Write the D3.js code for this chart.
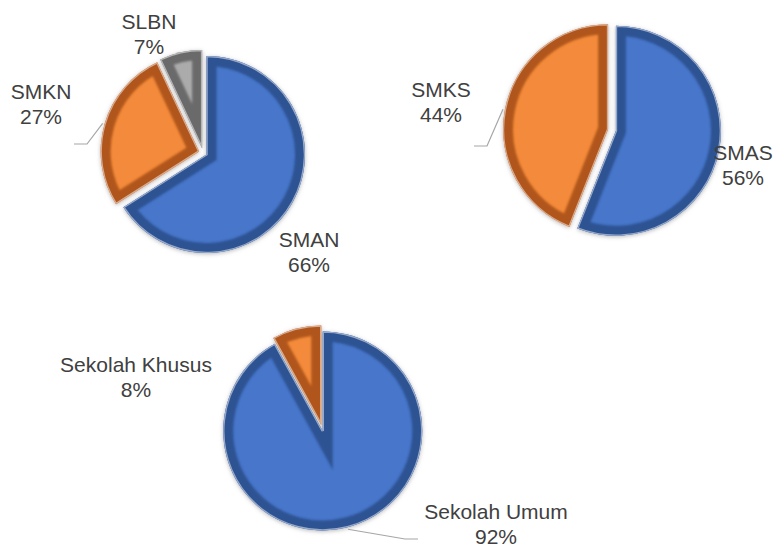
<!DOCTYPE html>
<html>
<head>
<meta charset="utf-8">
<script src="https://cdn.jsdelivr.net/npm/d3@7"></script>
<style>
  html, body { margin: 0; padding: 0; background: #ffffff; }
  svg { display: block; }
  .lbl { font-family: Arial, "Liberation Sans", sans-serif; font-size: 21px; fill: #404040; }
</style>
</head>
<body>
<svg id="chart" width="774" height="549"></svg>
<script>
// School composition data
const negeriCategories = ["SMAN", "SMKN", "SLBN"];
const negeriValues = [66, 27, 7];

const swastaCategories = ["SMAS", "SMKS"];
const swastaValues = [56, 44];

const jenisCategories = ["Sekolah Umum", "Sekolah Khusus"];
const jenisValues = [92, 8];

const sliceColors = ["#4676CA", "#F48A3A", "#ABABAB"];
const rimColors = ["#2D5293", "#B0571A", "#6A6A6A"];

const svg = d3.select("#chart");
const defs = svg.append("defs");

// soft shadow around each slice
const shadow = defs.append("filter").attr("id", "shadow")
  .attr("x", "-20%").attr("y", "-20%").attr("width", "140%").attr("height", "140%");
shadow.append("feGaussianBlur").attr("in", "SourceAlpha").attr("stdDeviation", 2.2).attr("result", "b");
shadow.append("feOffset").attr("in", "b").attr("dx", 0).attr("dy", 1).attr("result", "o");
shadow.append("feFlood").attr("flood-color", "#7a7a7a").attr("flood-opacity", 0.55).attr("result", "c");
shadow.append("feComposite").attr("in", "c").attr("in2", "o").attr("operator", "in").attr("result", "s");
const sm = shadow.append("feMerge");
sm.append("feMergeNode").attr("in", "s");
sm.append("feMergeNode").attr("in", "SourceGraphic");

// slight softening of the bevel rim
const soft = defs.append("filter").attr("id", "soft")
  .attr("x", "-10%").attr("y", "-10%").attr("width", "120%").attr("height", "120%");
soft.append("feGaussianBlur").attr("stdDeviation", 1.1);

let clipId = 0;

function drawPie(cfg) {
  const pie = d3.pie().sort(null).value(d => d.value);
  const arcs = pie(cfg.categories.map((c, i) => ({ name: c, value: cfg.values[i], idx: i })));
  const arc = d3.arc().innerRadius(0).outerRadius(cfg.r);
  const g = svg.append("g").attr("transform", `translate(${cfg.cx},${cfg.cy})`);

  arcs.forEach((a, i) => {
    const mid = (a.startAngle + a.endAngle) / 2;
    const dx = Math.sin(mid) * cfg.explode;
    const dy = -Math.cos(mid) * cfg.explode;
    const d = arc(a);
    const sg = g.append("g").attr("transform", `translate(${dx},${dy})`);

    const id = "clip" + (clipId++);
    defs.append("clipPath").attr("id", id).append("path").attr("d", d)
      .attr("transform", `translate(${cfg.cx + dx},${cfg.cy + dy})`);

    // base slice with shadow
    sg.append("path").attr("d", d).attr("fill", sliceColors[i]).attr("filter", "url(#shadow)");

    // inner bevel rim, clipped to the slice
    const clipG = svg.append("g").attr("clip-path", `url(#${id})`);
    clipG.append("path")
      .attr("d", d)
      .attr("transform", `translate(${cfg.cx + dx},${cfg.cy + dy})`)
      .attr("fill", "none")
      .attr("stroke", rimColors[i])
      .attr("stroke-width", cfg.bevel * 2)
      .attr("stroke-linejoin", "miter")
      .attr("stroke-miterlimit", 12)
      .attr("filter", "url(#soft)");

    // thin light edge
    clipG.append("path")
      .attr("d", d)
      .attr("transform", `translate(${cfg.cx + dx},${cfg.cy + dy})`)
      .attr("fill", "none")
      .attr("stroke", "#ffffff")
      .attr("stroke-opacity", 0.5)
      .attr("stroke-width", 2.5);
  });

  // labels
  cfg.labels.forEach((L, i) => {
    const a = arcs[i];
    const t = svg.append("text").attr("class", "lbl").attr("text-anchor", "middle");
    t.append("tspan").attr("x", L.x).attr("y", L.y).text(a.data.name);
    t.append("tspan").attr("x", L.x).attr("y", L.y + 25).text(Math.round(a.data.value) + "%");

    if (L.leader) {
      const mid = (a.startAngle + a.endAngle) / 2;
      const rr = cfg.r + cfg.explode + 2;
      const p0 = [cfg.cx + Math.sin(mid) * rr, cfg.cy - Math.cos(mid) * rr];
      const pts = [p0].concat(L.leader);
      svg.append("path")
        .attr("d", d3.line()(pts))
        .attr("fill", "none")
        .attr("stroke", "#a6a6a6")
        .attr("stroke-width", 1.2);
    }
  });
}

drawPie({
  categories: negeriCategories, values: negeriValues,
  cx: 203, cy: 152.5, r: 98.5, explode: 4, bevel: 10,
  labels: [
    { x: 309, y: 247 },
    { x: 41, y: 99, leader: [[87, 144], [74, 144]] },
    { x: 149, y: 29 }
  ]
});

drawPie({
  categories: swastaCategories, values: swastaValues,
  cx: 612, cy: 130, r: 105, explode: 4, bevel: 10,
  labels: [
    { x: 743, y: 160 },
    { x: 441, y: 97, leader: [[487, 146], [474, 146]] }
  ]
});

drawPie({
  categories: jenisCategories, values: jenisValues,
  cx: 322, cy: 428, r: 99.5, explode: 3, bevel: 10,
  labels: [
    { x: 496, y: 519, leader: [[405, 539], [418, 539]] },
    { x: 136, y: 372 }
  ]
});
</script>
</body>
</html>
